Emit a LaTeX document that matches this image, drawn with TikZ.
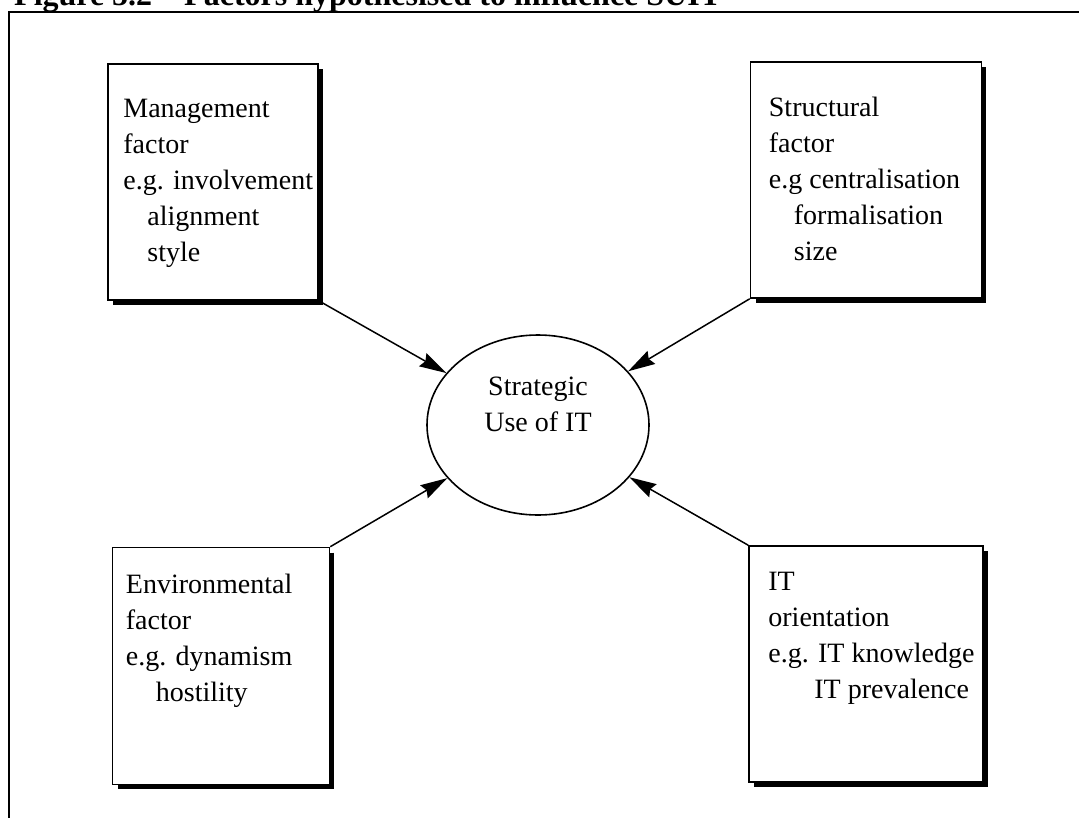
\documentclass[tikz,border=0pt]{standalone}
\usepackage{fontspec}
\setmainfont{Liberation Serif}
\usetikzlibrary{arrows.meta,shapes.geometric}
\begin{document}
\begin{tikzpicture}[x=1pt,y=-1pt,
  framerule/.style={line width=2.6pt,line cap=rect},
  factorbox/.style={draw,line width=1.6pt,rectangle,inner sep=0pt},
  boxshadow/.style={line width=4pt},
  boxtext/.style={anchor=north west,inner sep=0pt,align=left,
    font=\fontsize{28}{36}\selectfont},
  hub/.style={draw,line width=1.6pt,ellipse,inner sep=0pt,align=center,
    minimum width=222pt,minimum height=180pt,
    font=\fontsize{28}{36}\selectfont},
  influence/.style={line width=1.5pt,
    -{Stealth[length=27pt,width=15pt,inset=3pt]}}
]
\useasboundingbox (0,0) rectangle (1079,817);

% caption above the frame, cut off by the page edge
\begin{scope}
  \clip (0,0) rectangle (1079,10);
  \node[anchor=base west,inner sep=0pt,font=\fontsize{32}{34}\selectfont\bfseries]
    (caption) at (14,5) {Figure 5.2\quad Factors hypothesised to influence SUIT};
\end{scope}

% open frame: top and left rules only
\coordinate (fTL) at (9,12);
\coordinate (fTR) at (1079,12);
\coordinate (fBL) at (9,817);
\draw[framerule] (fTR) -- (fTL) -- (fBL);

% factor boxes
\node[factorbox,minimum width=210pt,minimum height=236pt] (mgmt) at (213,182) {};
\node[factorbox,minimum width=231pt,minimum height=236pt] (struct) at (866,180) {};
\node[factorbox,minimum width=217pt,minimum height=237pt] (env) at (221,666) {};
\node[factorbox,minimum width=234pt,minimum height=236pt] (itor) at (866,664) {};

% drop shadows on right and bottom edges
\foreach \b in {mgmt,struct,env,itor}{
  \draw[boxshadow] ([shift={(2,6)}]\b.north east) -- ([shift={(2,2)}]\b.south east)
    -- ([shift={(6,2)}]\b.south west);
}

% box contents
\node[boxtext] (mgmtT) at ([shift={(16,36)}]mgmt.north west)
  {Management\\factor\\e.g. involvement\\\hspace*{24pt}alignment\\\hspace*{24pt}style};
\node[boxtext] (structT) at ([shift={(19,36)}]struct.north west)
  {Structural\\factor\\e.g centralisation\\\hspace*{25pt}formalisation\\\hspace*{25pt}size};
\node[boxtext] (envT) at ([shift={(14,27)}]env.north west)
  {Environmental\\factor\\e.g. dynamism\\\hspace*{30pt}hostility};
\node[boxtext] (itorT) at ([shift={(20,27)}]itor.north west)
  {IT\\orientation\\e.g. IT knowledge\\\hspace*{46pt}IT prevalence};

% central construct, label sitting slightly above centre
\node[hub] (sui) at (538,425) {Strategic\\Use of IT\\[6pt]};

% influences
\draw[influence] (mgmt.south east) -- (sui);
\draw[influence] (struct.south west) -- (sui);
\draw[influence] (env.north east) -- (sui);
\draw[influence] (itor.north west) -- (sui);
\end{tikzpicture}
\end{document}
